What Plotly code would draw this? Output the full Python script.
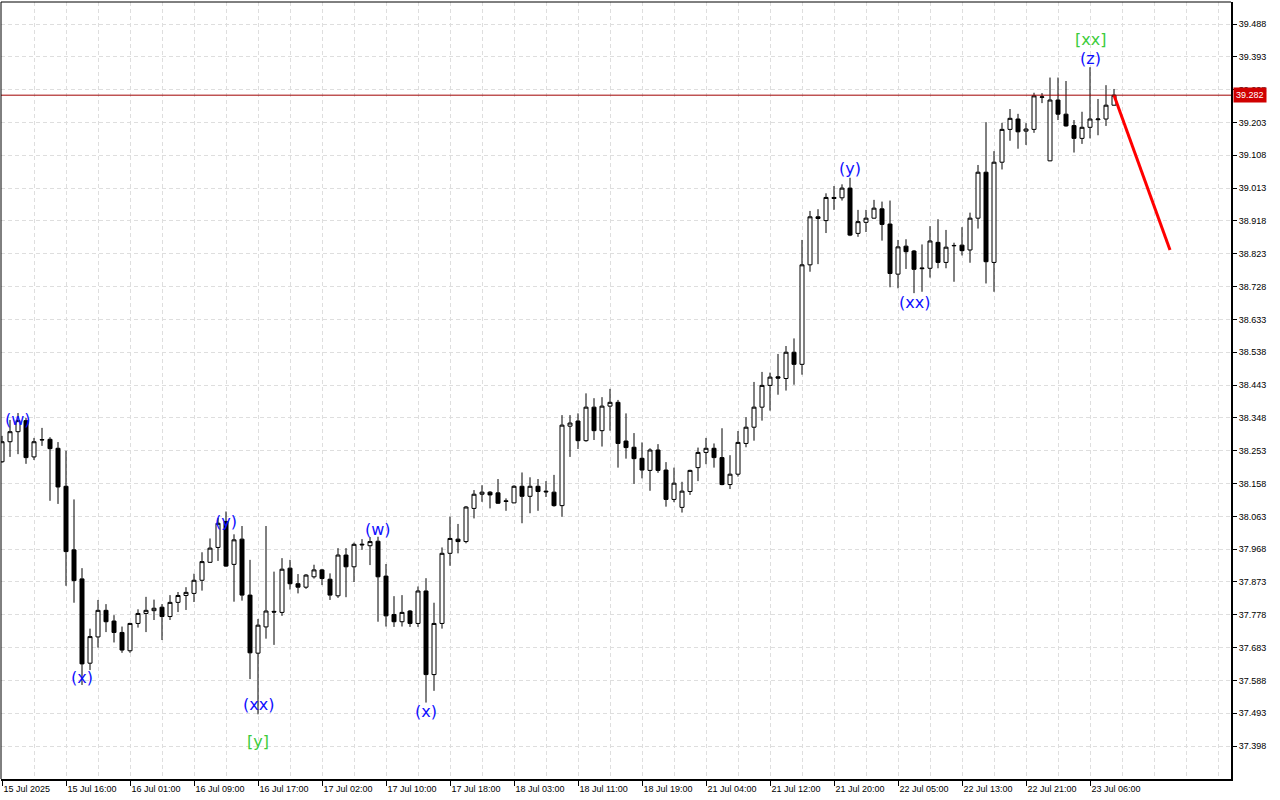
import plotly.graph_objects as go

# ---- data (hourly bars, index 0..139) ----
opens = [38.221, 38.279, 38.308, 38.340, 38.235, 38.284, 38.286, 38.260, 38.150, 37.966,
         37.882, 37.638, 37.714, 37.791, 37.760, 37.727, 37.674, 37.753, 37.782, 37.790,
         37.800, 37.773, 37.814, 37.834, 37.840, 37.878, 37.930, 37.973, 38.048, 37.924,
         37.997, 37.835, 37.667, 37.743, 37.788, 37.785, 37.913, 37.868, 37.858, 37.888,
         37.908, 37.881, 37.833, 37.951, 37.917, 37.980, 37.978, 37.991, 37.890, 37.779,
         37.758, 37.789, 37.753, 37.847, 37.605, 37.753, 37.956, 37.997, 37.990, 38.086,
         38.127, 38.133, 38.131, 38.108, 38.102, 38.150, 38.121, 38.150, 38.136, 38.133,
         38.094, 38.324, 38.339, 38.282, 38.379, 38.311, 38.382, 38.393, 38.281, 38.263,
         38.231, 38.196, 38.255, 38.197, 38.112, 38.089, 38.135, 38.204, 38.248, 38.260,
         38.233, 38.155, 38.185, 38.274, 38.321, 38.379, 38.442, 38.467, 38.462, 38.538,
         38.503, 38.791, 38.930, 38.919, 38.986, 38.985, 39.013, 38.882, 38.914, 38.926,
         38.953, 38.909, 38.764, 38.845, 38.831, 38.782, 38.781, 38.856, 38.798, 38.846,
         38.848, 38.834, 38.926, 39.059, 38.798, 39.088, 39.183, 39.213, 39.178, 39.183,
         39.276, 39.092, 39.268, 39.227, 39.194, 39.157, 39.189, 39.211, 39.213, 39.253]
highs = [38.296, 38.342, 38.362, 38.348, 38.290, 38.319, 38.292, 38.278, 38.253, 38.112,
         37.913, 37.738, 37.821, 37.809, 37.777, 37.744, 37.755, 37.794, 37.830, 37.822,
         37.809, 37.835, 37.844, 37.858, 37.897, 37.959, 37.999, 38.058, 38.077, 38.011,
         38.035, 37.937, 37.766, 38.035, 37.903, 37.942, 37.937, 37.896, 37.896, 37.923,
         37.911, 37.898, 37.971, 37.971, 37.987, 37.997, 38.003, 38.004, 37.925, 37.832,
         37.835, 37.792, 37.860, 37.884, 37.813, 37.973, 38.062, 38.041, 38.093, 38.139,
         38.153, 38.136, 38.171, 38.115, 38.153, 38.190, 38.176, 38.171, 38.165, 38.183,
         38.356, 38.356, 38.361, 38.419, 38.405, 38.408, 38.432, 38.400, 38.361, 38.304,
         38.277, 38.260, 38.272, 38.220, 38.204, 38.163, 38.198, 38.262, 38.290, 38.274,
         38.318, 38.240, 38.310, 38.350, 38.452, 38.481, 38.479, 38.533, 38.556, 38.578,
         38.863, 38.947, 38.952, 38.998, 39.019, 39.024, 39.043, 38.950, 38.950, 38.979,
         38.974, 38.977, 38.863, 38.865, 38.834, 38.850, 38.903, 38.923, 38.892, 38.855,
         38.900, 38.942, 39.080, 39.204, 39.120, 39.202, 39.242, 39.228, 39.201, 39.289,
         39.288, 39.333, 39.333, 39.323, 39.210, 39.234, 39.363, 39.271, 39.311, 39.300]
lows = [38.218, 38.235, 38.243, 38.215, 38.226, 38.267, 38.108, 38.099, 37.862, 37.813,
        37.575, 37.618, 37.683, 37.728, 37.698, 37.668, 37.668, 37.741, 37.728, 37.763,
        37.705, 37.763, 37.786, 37.792, 37.815, 37.848, 37.928, 37.934, 37.917, 37.816,
        37.819, 37.592, 37.490, 37.709, 37.691, 37.775, 37.851, 37.840, 37.853, 37.883,
        37.864, 37.821, 37.827, 37.829, 37.873, 37.966, 37.922, 37.758, 37.744, 37.743,
        37.744, 37.743, 37.743, 37.524, 37.558, 37.738, 37.920, 37.956, 37.985, 38.057,
        38.105, 38.086, 38.099, 38.079, 38.101, 38.043, 38.072, 38.079, 38.119, 38.091,
        38.062, 38.235, 38.258, 38.279, 38.284, 38.265, 38.311, 38.204, 38.230, 38.157,
        38.173, 38.137, 38.189, 38.091, 38.104, 38.074, 38.125, 38.165, 38.214, 38.204,
        38.153, 38.142, 38.178, 38.263, 38.282, 38.340, 38.369, 38.415, 38.427, 38.444,
        38.473, 38.771, 38.793, 38.883, 38.950, 38.977, 38.874, 38.872, 38.886, 38.925,
        38.861, 38.726, 38.723, 38.779, 38.709, 38.713, 38.754, 38.781, 38.781, 38.742,
        38.818, 38.797, 38.896, 38.737, 38.713, 39.067, 39.150, 39.127, 39.138, 39.173,
        39.259, 39.091, 39.210, 39.191, 39.116, 39.141, 39.157, 39.166, 39.193, 39.252]
closes = [38.279, 38.308, 38.340, 38.233, 38.279, 38.285, 38.259, 38.148, 37.961, 37.877,
          37.636, 37.715, 37.791, 37.758, 37.727, 37.676, 37.753, 37.782, 37.791, 37.797,
          37.773, 37.814, 37.834, 37.843, 37.878, 37.932, 37.971, 38.043, 37.919, 37.995,
          37.835, 37.668, 37.748, 37.789, 37.786, 37.910, 37.868, 37.858, 37.893, 37.908,
          37.883, 37.835, 37.951, 37.917, 37.982, 37.982, 37.990, 37.888, 37.775, 37.758,
          37.785, 37.753, 37.847, 37.605, 37.753, 37.956, 37.999, 37.990, 38.090, 38.127,
          38.133, 38.125, 38.101, 38.106, 38.150, 38.121, 38.150, 38.135, 38.134, 38.094,
          38.327, 38.333, 38.282, 38.379, 38.311, 38.382, 38.393, 38.274, 38.262, 38.230,
          38.197, 38.255, 38.196, 38.112, 38.159, 38.136, 38.196, 38.248, 38.260, 38.233,
          38.155, 38.185, 38.277, 38.321, 38.379, 38.442, 38.466, 38.463, 38.538, 38.503,
          38.791, 38.930, 38.925, 38.986, 38.983, 39.013, 38.877, 38.916, 38.926, 38.955,
          38.908, 38.766, 38.843, 38.829, 38.778, 38.780, 38.860, 38.798, 38.842, 38.847,
          38.832, 38.926, 39.059, 38.800, 39.088, 39.183, 39.215, 39.176, 39.184, 39.280,
          39.277, 39.268, 39.227, 39.193, 39.157, 39.189, 39.213, 39.213, 39.253, 39.282]

time_tick_bars = [0, 8, 16, 24, 32, 40, 48, 56, 64, 72, 80, 88, 96, 104, 112, 120, 128, 136]
time_tick_labels = ["15 Jul 2025", "15 Jul 16:00", "16 Jul 01:00", "16 Jul 09:00", "16 Jul 17:00",
                    "17 Jul 02:00", "17 Jul 10:00", "17 Jul 18:00", "18 Jul 03:00", "18 Jul 11:00",
                    "18 Jul 19:00", "21 Jul 04:00", "21 Jul 12:00", "21 Jul 20:00", "22 Jul 05:00",
                    "22 Jul 13:00", "22 Jul 21:00", "23 Jul 06:00"]

price_ticks = [37.398, 37.493, 37.588, 37.683, 37.778, 37.873, 37.968, 38.063, 38.158, 38.253,
               38.348, 38.443, 38.538, 38.633, 38.728, 38.823, 38.918, 39.013, 39.108, 39.203,
               39.298, 39.393, 39.488]

current_price = 39.282
forecast_bars = [139, 146]
forecast_prices = [39.282, 38.834]

wave_texts = ["(w)", "(x)", "(y)", "(xx)", "[y]", "(w)", "(x)", "(y)", "(xx)", "[xx]", "(z)"]
wave_bars = [2, 10, 28, 32, 32, 47, 53, 106, 114, 136, 136]
wave_prices = [38.342, 37.598, 38.047, 37.517, 37.410, 38.026, 37.497, 39.070, 38.683, 39.442, 39.387]
wave_colors = ["#1010ff", "#1010ff", "#1010ff", "#1010ff", "#3ccc3c", "#1010ff", "#1010ff",
               "#1010ff", "#1010ff", "#3ccc3c", "#1010ff"]

bars = list(range(len(opens)))

fig = go.Figure()
fig.add_trace(go.Candlestick(
    x=bars, open=opens, high=highs, low=lows, close=closes,
    increasing=dict(fillcolor="white", line=dict(color="black", width=1)),
    decreasing=dict(fillcolor="black", line=dict(color="black", width=1)),
    whiskerwidth=0, hoverinfo="skip", showlegend=False,
))
fig.add_trace(go.Scatter(
    x=forecast_bars, y=forecast_prices, mode="lines",
    line=dict(color="#ff0000", width=3), hoverinfo="skip", showlegend=False,
))

for t, xb, yp, c in zip(wave_texts, wave_bars, wave_prices, wave_colors):
    fig.add_annotation(x=xb, y=yp, text=t, showarrow=False, xanchor="center", yanchor="middle",
                       font=dict(family="DejaVu Sans", size=16, color=c))

# current price line and label
fig.add_shape(type="line", xref="paper", x0=0, x1=1, yref="y", y0=current_price, y1=current_price,
              line=dict(color="#a00000", width=1), layer="above")
fig.add_annotation(xref="paper", x=1, y=current_price, text=f"{current_price:.3f}", showarrow=False,
                   xanchor="left", yanchor="middle", xshift=2,
                   bgcolor="#d00000", font=dict(family="Liberation Sans", size=9, color="white"),
                   borderpad=2)

# frame (left / top thin)
fig.add_shape(type="line", xref="paper", yref="paper", x0=0, x1=0, y0=0, y1=1,
              line=dict(color="black", width=1))
fig.add_shape(type="line", xref="paper", yref="paper", x0=0, x1=1, y0=1, y1=1,
              line=dict(color="black", width=1))

grid_col = "#dedede"
fig.update_layout(
    width=1280, height=800,
    margin=dict(l=1, r=49, t=2, b=21),
    paper_bgcolor="white", plot_bgcolor="white",
    boxgap=0.5, boxgroupgap=0,
    showlegend=False, hovermode=False,
    font=dict(family="Liberation Sans", size=9, color="black"),
    xaxis=dict(
        range=[-0.125, 153.625], rangeslider=dict(visible=False),
        tickmode="array", tickvals=time_tick_bars, ticktext=time_tick_labels,
        ticks="outside", ticklen=5, tickcolor="black", tickwidth=1,
        ticklabelposition="outside right",
        tickfont=dict(family="Liberation Sans", size=9, color="black"),
        showgrid=True, gridcolor=grid_col, griddash="4px,3px", gridwidth=1,
        minor=dict(tickmode="linear", tick0=0, dtick=4, showgrid=True, gridcolor=grid_col,
                   griddash="4px,3px", gridwidth=1, ticklen=0),
        showline=True, linecolor="black", linewidth=2,
        zeroline=False, fixedrange=True,
    ),
    yaxis=dict(
        side="right", range=[37.3028, 39.5517],
        tickmode="array", tickvals=price_ticks, ticktext=[f"{v:.3f}" for v in price_ticks],
        ticks="outside", ticklen=4, tickcolor="black", tickwidth=1,
        tickfont=dict(family="Liberation Sans", size=9, color="black"),
        showgrid=True, gridcolor=grid_col, griddash="4px,3px", gridwidth=1,
        showline=True, linecolor="black", linewidth=2,
        zeroline=False, fixedrange=True,
    ),
)

fig.write_html("out.html", config={"displayModeBar": False},
               post_script="document.body.style.margin='0';document.body.style.overflow='hidden';")
